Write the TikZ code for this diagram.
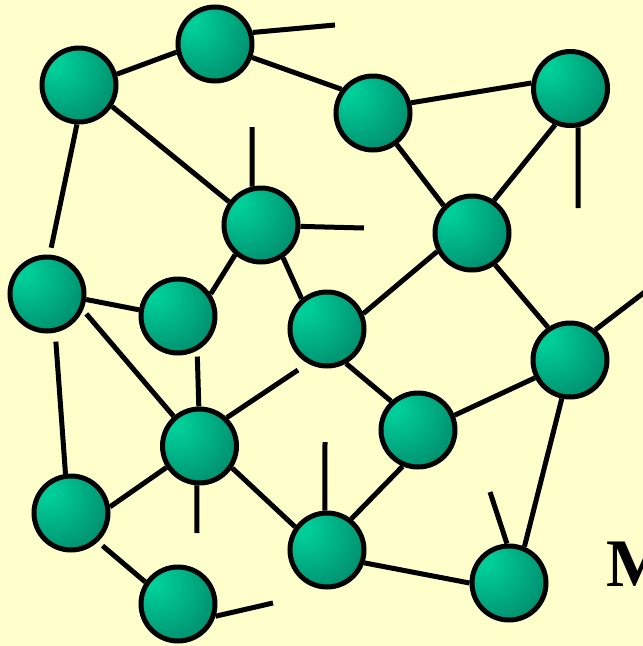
\documentclass[tikz,border=0pt]{standalone}
\usepackage{fontspec}
\setmainfont{Liberation Serif}
\definecolor{bgyellow}{RGB}{255,255,204}
\definecolor{ballLight}{RGB}{0,206,152}
\definecolor{ballMid}{RGB}{0,146,112}
\definecolor{ballDark}{RGB}{0,94,72}
\pgfdeclareradialshading{tealball}{\pgfpoint{-18bp}{16bp}}{color(0bp)=(ballLight); color(5bp)=(ballLight); color(36bp)=(ballMid); color(62bp)=(ballDark); color(80bp)=(ballDark)}
\tikzset{
  ballnode/.style={circle, draw=black, line width=5pt, minimum size=74pt, inner sep=0pt, shading=tealball},
  link/.style={line width=5pt, draw=black},
}
\begin{document}
\begin{tikzpicture}[x=1pt,y=-1pt]
\useasboundingbox (0,0) rectangle (643,646);
\fill[bgyellow] (0,0) rectangle (643,646);

% nodes
\node[ballnode] (A) at (79,85) {};
\node[ballnode] (B) at (215,44) {};
\node[ballnode] (C) at (373,113) {};
\node[ballnode] (D) at (570.5,88.5) {};
\node[ballnode] (E) at (261,225) {};
\node[ballnode] (F) at (472,233) {};
\node[ballnode] (G) at (47,294) {};
\node[ballnode] (H) at (178,316) {};
\node[ballnode] (I) at (327,329) {};
\node[ballnode] (J) at (570,360) {};
\node[ballnode] (K) at (418,430) {};
\node[ballnode] (L) at (199.5,446) {};
\node[ballnode] (M) at (71,513) {};
\node[ballnode] (N) at (327,550) {};
\node[ballnode] (O) at (178,604) {};
\node[ballnode] (P) at (509,583) {};

% free ends
\coordinate (sB) at (335,25);
\coordinate (sD) at (578,208);
\coordinate (sE1) at (252,127);
\coordinate (sE2) at (364,228);
\coordinate (sJ) at (650,288);
\coordinate (sL1) at (298,370);
\coordinate (sL2) at (197,533);
\coordinate (sN) at (325,442);
\coordinate (sP) at (490,492);
\coordinate (sO) at (273,603);

% connectors
\draw[link] (A.16) -- (B.192);
\draw[link] (B.17) -- (sB);
\draw[link] (B.-20) -- (C.143);
\draw[link] (C.15) -- (D.172);
\draw[link] (C.-53) -- (F.136);
\draw[link] (D.247) -- (F.56);
\draw[link] (D.-79) -- (sD);
\draw[link] (A.-33) -- (E.144);
\draw[link, shorten >=7pt] (A.-93) -- (G.86);
\draw[link] (E.103) -- (sE1);
\draw[link] (E.-2) -- (sE2);
\draw[link] (E.229) -- (H.34);
\draw[link] (E.-56) -- (I.130);
\draw[link] (I.23) -- (F.208);
\draw[link] (F.-54) -- (J.124);
\draw[link] (J.50) -- (sJ);
\draw[link] (G.-8) -- (H.171);
\draw[link, shorten <=5pt] (G.-24) -- (L.131);
\draw[link, shorten <=9pt] (G.-78) -- (M.98);
\draw[link, shorten <=6pt] (H.-61) -- (L.91);
\draw[link] (L.46) -- (sL1);
\draw[link] (L.213) -- (M.9);
\draw[link] (L.-94) -- (sL2);
\draw[link] (L.-34) -- (N.144);
\draw[link] (I.-61) -- (K.133);
\draw[link] (K.247) -- (N.52);
\draw[link] (N.93) -- (sN);
\draw[link] (K.22) -- (J.207);
\draw[link] (J.258) -- (P.67);
\draw[link] (P.93) -- (sP);
\draw[link] (N.-19) -- (P.180);
\draw[link, shorten <=6pt] (M.-47) -- (O.146);
\draw[link] (O.-18) -- (sO);

% text
\node[anchor=base west, inner sep=0pt, font=\fontsize{68}{68}\selectfont\bfseries] (txtM) at (606,586) {M};
\end{tikzpicture}
\end{document}
